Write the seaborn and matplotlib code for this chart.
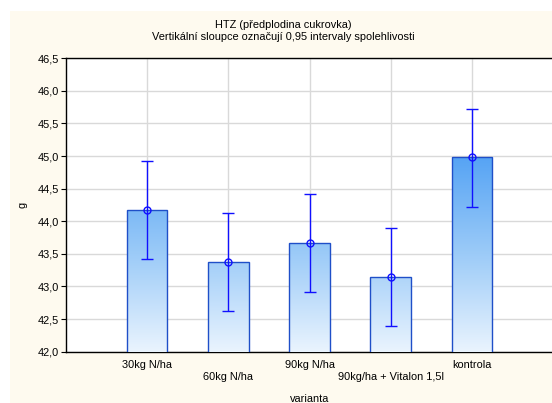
import numpy as np
import pandas as pd
import matplotlib
matplotlib.use("Agg")
import matplotlib.pyplot as plt
import seaborn as sns
from matplotlib.colors import LinearSegmentedColormap
from matplotlib.patches import Rectangle

# -----------------------------
# DATA
# -----------------------------
varianta = ["30kg N/ha", "60kg N/ha", "90kg N/ha", "90kg/ha + Vitalon 1,5l", "kontrola"]
prumer = [44.17, 43.37, 43.67, 43.15, 44.98]
ci_low = [43.42, 42.62, 42.92, 42.40, 44.22]
ci_high = [44.92, 44.12, 44.42, 43.90, 45.72]
y_ticks = [42.0, 42.5, 43.0, 43.5, 44.0, 44.5, 45.0, 45.5, 46.0, 46.5]
y_labels = ["42,0", "42,5", "43,0", "43,5", "44,0", "44,5", "45,0", "45,5", "46,0", "46,5"]

df = pd.DataFrame({"varianta": varianta, "g": prumer})

# -----------------------------
# STYLE
# -----------------------------
sns.set_style("white")
plt.rcParams["font.family"] = ["Liberation Sans", "DejaVu Sans"]
plt.rcParams["font.size"] = 7.9
plt.rcParams["text.color"] = "black"
plt.rcParams["axes.labelcolor"] = "black"
plt.rcParams["xtick.color"] = "black"
plt.rcParams["ytick.color"] = "black"

fig = plt.figure(figsize=(5.52, 4.03), dpi=100, facecolor="white")
fig.patches.append(Rectangle((10 / 552, 0), 1, 1 - 11 / 403, transform=fig.transFigure,
                             facecolor="#FEFAEF", edgecolor="none", zorder=-10))
ax = fig.add_axes([66 / 552, 51.3 / 403, 487 / 552, 293.5 / 403])
ax.set_facecolor("white")

# -----------------------------
# BARS
# -----------------------------
sns.barplot(data=df, x="varianta", y="g", ax=ax, width=0.5, color="#8cc4f8",
            edgecolor="#1f4fc8", linewidth=1.0, errorbar=None, zorder=3)

ax.set_ylim(42.0, 46.5)
ax.set_xlim(-1, 5)

# gradient fill, mapped on absolute y
cmap = LinearSegmentedColormap.from_list("bl", ["#eaf4fe", "#9ccbf8", "#55a3f4"])
grad = np.linspace(0, 1, 256).reshape(-1, 1)
for p in ax.patches:
    x0 = p.get_x()
    w = p.get_width()
    top = p.get_y() + p.get_height()
    frac = (top - 42.0) / 3.0
    im = ax.imshow(grad[: max(2, int(256 * min(frac, 1)))], extent=[x0, x0 + w, 42.0, top],
                   origin="lower", cmap=cmap, vmin=0, vmax=1, aspect="auto", zorder=3)
    im.set_clip_path(p)
    p.set_facecolor("none")
    p.set_zorder(4)

# -----------------------------
# ERROR BARS (0.95 CI)
# -----------------------------
pos = np.arange(len(varianta))
yerr = [np.array(prumer) - np.array(ci_low), np.array(ci_high) - np.array(prumer)]
ax.errorbar(pos, prumer, yerr=yerr, fmt="o", color="#1010ff", mfc="none", mec="#1010ff",
            ms=5, mew=1.0, elinewidth=1.0, capsize=4.5, capthick=1.0, zorder=6)

# -----------------------------
# AXES / GRID / LABELS
# -----------------------------
ax.set_yticks(y_ticks)
ax.set_yticklabels(y_labels)
ax.set_xticks(pos)
ax.set_xticklabels([("\n" + v) if i % 2 else v for i, v in enumerate(varianta)])
ax.grid(True, color="#d9d9d9", linewidth=1.0, zorder=0)
ax.set_axisbelow(True)
for s in ["left", "bottom", "top"]:
    ax.spines[s].set_visible(True)
    ax.spines[s].set_color("black")
    ax.spines[s].set_linewidth(1.0)
ax.spines["right"].set_visible(False)
ax.tick_params(axis="y", left=True, direction="out", length=3.5, width=0.8, pad=1.5)
ax.tick_params(axis="x", bottom=True, direction="in", length=3, width=0.8, pad=6)

ax.set_xlabel("varianta", labelpad=9)
ax.set_ylabel("g", labelpad=7)

fig.text(283 / 552, 1 - 24.5 / 403, "HTZ (předplodina cukrovka)", ha="center", va="center")
fig.text(283 / 552, 1 - 37.5 / 403, "Vertikální sloupce označují 0,95 intervaly spolehlivosti",
         ha="center", va="center")

fig.savefig("out.png", dpi=100, facecolor=fig.get_facecolor())
